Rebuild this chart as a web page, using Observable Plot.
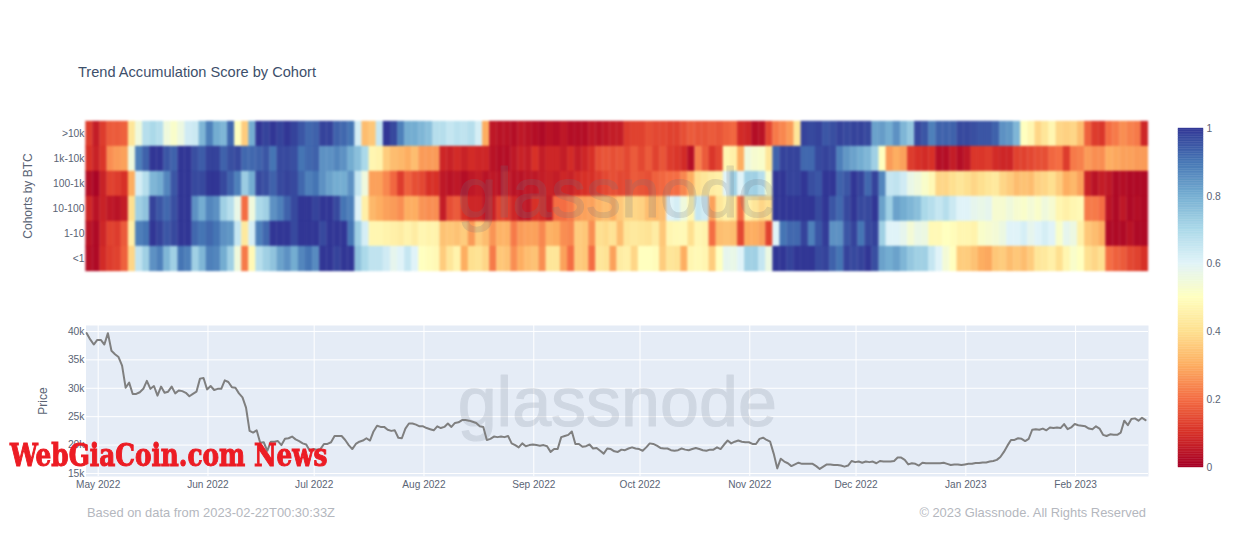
<!DOCTYPE html>
<html><head><meta charset="utf-8">
<script src="https://cdn.jsdelivr.net/npm/d3@7"></script>
<script src="https://cdn.jsdelivr.net/npm/@observablehq/plot@0.6"></script>
<style>
html,body{margin:0;padding:0;background:#fff;width:1234px;height:537px;overflow:hidden;font-family:"Liberation Sans",Arial,sans-serif}
#page{position:relative;width:1234px;height:537px}
#page>div{position:absolute}
#page svg{display:block;background:transparent}
#heat g[aria-label="bar"]{filter:blur(.8px)}
#title{left:78px;top:64px;font-size:14.6px;color:#3d4f6b;white-space:nowrap}
#foot1{left:87px;top:505px;font-size:12.9px;color:#b4b7be;white-space:nowrap}
#foot2{right:88px;top:505px;font-size:12.9px;color:#b4b7be;white-space:nowrap}
#stamp{left:10px;top:436px;font-family:"DejaVu Serif Condensed","DejaVu Serif",serif;font-weight:bold;font-size:32px;color:#ec1c24;white-space:nowrap;-webkit-text-stroke:1px #ec1c24;transform-origin:0 0;transform:scaleX(.86)}
</style></head><body>
<div id="page">
<div id="heat" style="left:0;top:0"></div>
<div id="price" style="left:0;top:300px"></div>
<div id="bar" style="left:1165px;top:100px"></div>
<div id="title">Trend Accumulation Score by Cohort</div>
<div id="foot1">Based on data from 2023-02-22T00:30:33Z</div>
<div id="foot2">© 2023 Glassnode. All Rights Reserved</div>
<div id="stamp">WebGiaCoin.com News</div>
</div>
<script>
const cohorts = [">10k","1k-10k","100-1k","10-100","1-10","<1"];
const scoreStep = 2; // days per heatmap column
const gt10k = [
.12,.06,.12,.17,.17,.18,.42,.55,.68,.70,
.68,.55,.52,.56,.63,.64,.78,.88,.80,.78,
.92,.50,.36,.80,1,.98,1,.98,1,.98,
.95,.92,.93,.98,.98,.93,.92,.90,.62,.33,
.35,.65,1,.97,.88,.80,.80,.78,.76,.68,
.68,.65,.67,.66,.68,.62,.30,.05,.04,.04,
.03,.05,.04,.03,.02,.04,.03,.05,.03,.03,
.03,.05,.04,.05,.06,.06,.12,.13,.13,.15,
.14,.14,.13,.13,.15,.17,.16,.16,.17,.16,
.18,.19,.09,.08,.03,.04,.14,.22,.24,.27,
.42,.98,.97,.98,.95,.96,.98,.97,.98,.98,
.97,.82,.83,.80,.85,.78,.74,.97,.95,.88,
.93,.93,.93,.97,.97,.96,.95,.95,.93,.85,
.84,.78,.50,.47,.38,.42,.47,.38,.37,.38,
.33,.18,.12,.11,.20,.22,.25,.23,.22,.08];
const k1to10k = [
.10,.07,.11,.25,.27,.28,.55,.88,.93,1,
1,.95,.93,1,1,.96,.94,.98,.98,.93,
.96,.97,.92,.92,.93,.95,.90,.97,.97,.96,
.90,.92,.93,.85,.85,.87,.85,.80,.76,.70,
.47,.46,.36,.33,.32,.30,.33,.27,.27,.27,
.08,.07,.09,.07,.09,.08,.08,.04,.03,.03,
.05,.07,.06,.10,.06,.08,.08,.06,.09,.06,
.08,.10,.15,.16,.15,.16,.14,.17,.14,.17,
.13,.16,.12,.11,.09,.03,.23,.17,.11,.14,
.47,.45,.30,.55,.53,.52,.42,.93,.98,.98,
.98,.92,.92,.97,.98,.97,.88,.84,.82,.80,
.78,.72,.50,.27,.30,.28,.12,.10,.09,.10,
.03,.03,.06,.03,.05,.11,.11,.12,.09,.08,
.08,.13,.13,.14,.15,.15,.19,.20,.12,.22,
.23,.27,.25,.25,.30,.29,.28,.28,.27,.27];
const h100to1k = [
.03,.01,.07,.13,.12,.10,.30,.62,.68,.78,
.80,.87,.95,1,1,.97,.97,1,1,.97,
.93,.88,.73,.80,.97,.96,.93,.97,.98,.97,
.92,.88,.90,.85,.82,.80,.80,.85,.65,.55,
.28,.28,.24,.19,.12,.18,.15,.14,.10,.10,
.05,.04,.05,.03,.05,.06,.04,.05,.04,.06,
.04,.04,.05,.05,.06,.07,.06,.08,.07,.09,
.10,.10,.12,.14,.15,.14,.14,.17,.16,.15,
.18,.19,.20,.20,.24,.30,.40,.42,.44,.45,
.60,.72,.60,.72,.72,.68,.52,1,1,.98,
.98,1,.96,.95,1,1,.93,.95,1,.98,
.92,.98,.87,.65,.66,.63,.57,.55,.52,.48,
.38,.38,.40,.42,.40,.38,.40,.42,.43,.38,
.36,.33,.34,.33,.37,.38,.40,.36,.30,.32,
.28,.07,.04,.06,.05,.02,.03,.02,.02,.02];
const t10to100 = [
.08,.04,.07,.05,.04,.06,.40,.72,.75,.98,
.95,.92,.96,1,1,.85,.80,.87,.85,.72,
.68,.57,.20,.55,.70,.72,.85,.88,.93,.97,
1,1,.98,1,1,.97,.90,.88,.60,.45,
.32,.30,.28,.27,.25,.30,.30,.26,.25,.25,
.06,.15,.17,.10,.08,.08,.05,.07,.13,.12,
.08,.05,.05,.10,.09,.06,.20,.20,.22,.27,
.28,.28,.31,.33,.30,.35,.38,.38,.37,.33,
.32,.33,.60,.62,.55,.47,.65,.63,.28,.42,
.45,.42,.20,.45,.42,.38,.40,1,1,1,
1,1,1,.97,1,.95,.92,.97,1,.97,
.97,1,.82,.72,.82,.80,.78,.76,.70,.68,
.65,.68,.64,.60,.60,.58,.57,.58,.53,.53,
.55,.53,.52,.54,.52,.55,.53,.47,.45,.47,
.48,.22,.22,.20,.04,.02,.05,.02,.03,.02];
const o1to10 = [
.04,.02,.08,.13,.12,.17,.45,.88,.90,1,
.98,.95,.97,1,1,.92,.90,.92,.90,.85,
.84,.65,.43,.62,.88,.92,1,1,1,.97,
1,1,1,.97,1,1,1,.90,.72,.62,
.47,.47,.46,.45,.44,.46,.44,.47,.46,.46,
.34,.35,.34,.36,.27,.36,.33,.26,.31,.31,
.22,.27,.28,.28,.24,.31,.30,.25,.24,.36,
.35,.25,.40,.39,.41,.33,.42,.43,.42,.41,
.44,.35,.47,.48,.48,.40,.47,.46,.20,.33,
.34,.33,.14,.30,.30,.28,.13,.60,.90,.92,
.92,.98,.88,.95,.99,.85,.85,.95,.98,.90,
.97,.98,.72,.60,.60,.58,.54,.57,.56,.48,
.48,.50,.49,.47,.47,.46,.52,.53,.54,.56,
.60,.60,.62,.58,.60,.62,.60,.52,.58,.56,
.45,.35,.33,.30,.02,.02,.02,.04,.02,.02];
const lt1 = [
.03,.02,.09,.12,.13,.18,.38,.66,.72,.85,
.88,.78,.72,.90,.88,.72,.78,.88,.87,.80,
.72,.55,.22,.48,.68,.72,.75,.82,.85,.80,
.87,.90,.86,1,1,.98,1,1,.75,.70,
.66,.66,.63,.58,.60,.65,.60,.50,.49,.48,
.36,.42,.46,.30,.40,.41,.38,.22,.35,.34,
.25,.30,.33,.34,.25,.42,.42,.28,.20,.36,
.35,.20,.42,.41,.28,.44,.45,.38,.50,.50,
.49,.36,.42,.41,.30,.47,.48,.47,.36,.50,
.58,.57,.60,.72,.72,.65,.56,1,1,.98,
1,1,1,.97,.98,.93,.90,.98,.97,.98,
1,.96,.82,.80,.82,.78,.74,.72,.72,.65,
.60,.54,.50,.36,.36,.34,.30,.29,.35,.36,
.33,.35,.33,.36,.42,.43,.45,.40,.47,.52,
.50,.40,.38,.40,.20,.18,.17,.14,.13,.10];
const rows = [gt10k,k1to10k,h100to1k,t10to100,o1to10,lt1];

// daily price in thousands of USD
const priceValues = [
39.7,38.6,37.7,38.5,38.5,37.7,39.7,36.6,36.0,35.5,34.0,30.1,31.0,29.0,29.0,29.3,29.9,31.3,29.9,30.4,
28.7,30.3,29.2,29.4,30.3,29.1,29.6,29.5,29.2,28.6,29.0,29.4,31.7,31.8,29.8,30.4,29.7,29.9,29.9,31.4,
31.1,30.2,30.1,29.1,28.4,26.6,22.5,22.2,22.6,20.4,20.5,19.0,20.6,20.6,20.7,20.0,21.1,21.2,21.5,21.0,
20.7,20.3,20.1,19.0,19.3,19.2,19.3,20.2,20.2,20.5,21.6,21.6,21.6,20.9,20.0,19.3,20.2,20.6,20.8,21.2,
20.8,22.4,23.4,23.2,23.2,22.7,22.5,22.6,21.3,21.2,22.9,23.8,23.8,23.6,23.3,23.3,23.0,22.8,22.6,23.3,
23.0,23.2,23.8,23.2,23.9,24.0,24.4,24.4,24.3,24.1,23.9,23.3,23.2,20.9,21.1,21.5,21.4,21.5,21.4,21.6,
20.3,20.0,19.6,20.3,19.8,20.0,20.1,20.0,19.9,20.0,19.8,18.8,19.3,19.3,21.4,21.6,21.8,22.4,20.2,20.2,
19.7,19.8,20.1,19.4,19.5,19.0,18.5,19.4,19.3,18.9,18.8,19.2,19.1,19.4,19.6,19.4,19.3,19.0,19.6,20.3,
20.2,19.9,19.5,19.4,19.4,19.1,19.0,19.1,19.4,19.2,19.1,19.3,19.5,19.3,19.1,19.0,19.2,19.2,19.6,19.3,
20.1,20.8,20.3,20.6,20.8,20.6,20.5,20.5,20.2,20.2,21.1,21.3,20.9,20.6,18.5,15.9,17.6,17.1,16.8,16.3,
16.6,16.9,16.7,16.7,16.7,16.7,16.3,15.8,16.2,16.6,16.6,16.5,16.5,16.4,16.2,16.4,17.2,17.0,17.1,16.9,
17.1,17.0,17.1,16.8,17.2,17.1,17.1,17.1,17.2,17.8,17.8,17.4,16.6,16.8,16.7,16.4,16.9,16.8,16.8,16.8,
16.8,16.8,16.9,16.7,16.5,16.6,16.6,16.5,16.6,16.7,16.7,16.85,16.83,16.95,16.95,17.1,17.2,17.4,17.9,18.8,
19.9,20.9,20.9,21.2,21.1,20.7,21.1,22.7,22.8,22.7,22.9,22.6,23.1,23.0,23.1,23.0,23.7,22.8,23.1,23.7,
23.5,23.4,23.3,22.9,22.8,23.3,22.9,21.8,21.6,21.9,21.8,21.8,22.2,24.3,23.5,24.6,24.7,24.3,24.8,24.4];

const monthTicks = ["2022-05-01","2022-06-01","2022-07-01","2022-08-01","2022-09-01","2022-10-01","2022-11-01","2022-12-01","2023-01-01","2023-02-01"].map(d=>new Date(d+"T00:00Z"));
const monthFmt = d3.utcFormat("%b %Y");
const priceTicks = [15,20,25,30,35,40];
const barTicks = [0,.2,.4,.6,.8,1];
const rdylbu = ["#a50026","#d73027","#f46d43","#fdae61","#fee090","#ffffbf","#e0f3f8","#abd9e9","#74add1","#4575b4","#313695"];
const colorDomain = rdylbu.map((_,i)=>i/10);
const xDomain = [new Date("2022-04-27T13:30Z"),new Date("2023-02-21T14:00Z")];
const heatStart = +xDomain[0], DAY = 864e5;
const priceStart = +new Date("2022-04-27T18:00Z");
const fontFam = '"Liberation Sans",Arial,sans-serif';
const tickCol = "#5a6475";

const cells = [];
rows.forEach((r,ri)=>r.forEach((v,i)=>cells.push({
  cohort:cohorts[ri],
  x1:new Date(heatStart+i*scoreStep*DAY),
  x2:new Date(heatStart+(i+1)*scoreStep*DAY),
  v})));
const priceData = priceValues.map((p,i)=>({d:new Date(priceStart+i*DAY),p}));
const colorScale = {type:"linear",domain:colorDomain,range:rdylbu};

const heat = Plot.plot({
  width:1165,height:300,marginLeft:85.5,marginRight:17,marginTop:120,marginBottom:29,
  style:{background:"transparent",fontFamily:fontFam,fontSize:"10.3px"},
  x:{type:"utc",domain:xDomain,axis:null},
  y:{type:"band",domain:cohorts,padding:0,axis:null},
  color:colorScale,
  marks:[
    Plot.barX(cells,{x1:"x1",x2:"x2",y:"cohort",fill:"v",stroke:"v",strokeWidth:.3}),
    Plot.axisY({domain:cohorts,anchor:"left",tickSize:0,tickPadding:1.5,label:null,color:tickCol,fontSize:10.3}),
    Plot.text(["glassnode"],{frameAnchor:"middle",dy:-1,fontSize:70,fontFamily:fontFam,fill:"#6f7480",stroke:"#6f7480",strokeWidth:1.2,opacity:.2,text:d=>d}),
    Plot.text(["Cohorts by BTC"],{frameAnchor:"left",textAnchor:"middle",dx:-58,rotate:-90,fontSize:12,fontFamily:fontFam,fill:tickCol,text:d=>d})
  ]
});
document.getElementById("heat").append(heat);

const price = Plot.plot({
  width:1165,height:200,marginLeft:85.5,marginRight:17,marginTop:25,marginBottom:24,
  style:{background:"transparent",fontFamily:fontFam,fontSize:"10.3px"},
  x:{type:"utc",domain:xDomain},
  y:{domain:[14.47,41.05]},
  marks:[
    Plot.frame({fill:"#e5ecf6",stroke:null}),
    Plot.gridX(monthTicks,{stroke:"#fff",strokeOpacity:1,strokeWidth:1}),
    Plot.gridY(priceTicks,{stroke:"#fff",strokeOpacity:1,strokeWidth:1}),
    Plot.text(["glassnode"],{frameAnchor:"middle",dy:3,fontSize:70,fontFamily:fontFam,fill:"#7d8798",stroke:"#7d8798",strokeWidth:1.2,opacity:.2,text:d=>d}),
    Plot.axisX(monthTicks,{tickSize:0,tickPadding:4,label:null,tickFormat:monthFmt,color:tickCol,fontSize:10.1}),
    Plot.axisY(priceTicks,{tickSize:0,tickPadding:1.5,label:null,tickFormat:d=>d+"k",color:tickCol,fontSize:10.3}),
    Plot.lineY(priceData,{x:"d",y:"p",stroke:"#7f7f7f",strokeWidth:2}),
    Plot.text(["Price"],{frameAnchor:"left",textAnchor:"middle",dx:-43,rotate:-90,fontSize:12,fontFamily:fontFam,fill:tickCol,text:d=>d})
  ]
});
document.getElementById("price").append(price);

const steps = d3.range(0,1,.005);
const bar = Plot.plot({
  width:69,height:380,marginLeft:13,marginRight:31,marginTop:28,marginBottom:13,
  style:{background:"transparent",fontFamily:fontFam,fontSize:"10.3px"},
  x:{domain:[0,1],axis:null},
  y:{domain:[0,1],axis:null},
  color:colorScale,
  marks:[
    Plot.rect(steps,{x1:0,x2:1,y1:d=>d,y2:d=>d+.005,fill:d=>d,stroke:d=>d,strokeWidth:.4}),
    Plot.axisY(barTicks,{anchor:"right",tickSize:0,tickPadding:3,label:null,tickFormat:d=>String(d),color:tickCol,fontSize:10.3})
  ]
});
document.getElementById("bar").append(bar);
</script>
</body></html>
